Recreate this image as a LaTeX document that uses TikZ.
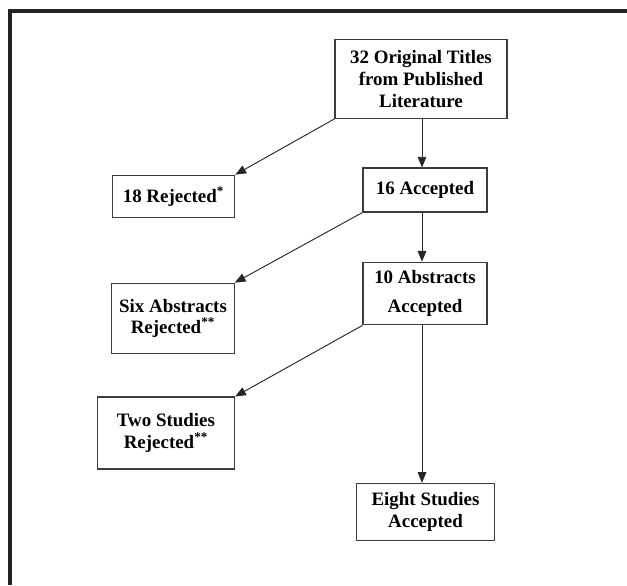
\documentclass[tikz,border=0pt]{standalone}
\usepackage{fontspec}
\setmainfont{Liberation Serif}
\usepackage{tikz}
\usetikzlibrary{arrows.meta}
\definecolor{boxline}{RGB}{60, 60, 60}
\definecolor{framegray}{RGB}{35, 35, 35}

\begin{document}
\begin{tikzpicture}[x=0.75pt, y=-0.75pt,
                box/.style={draw=boxline, line width=0.8pt, fill=white,
                           inner sep=0pt, align=center,
                           font=\bfseries\fontsize{14.2}{16.3}\selectfont},
                arr/.style={draw=black!85, line width=0.7pt,
                           -{Triangle[length=8pt, width=6.5pt]}}]
                \useasboundingbox (0,0) rectangle (627,585);
                \draw[framegray, line width=3pt] (10,585) -- (10,11.5) -- (627,11.5);

                \node[box, minimum width=129pt, minimum height=59pt] (titles) at (421,79)
                      {32 Original Titles\\from Published\\Literature};
                \node[box, minimum width=92pt, minimum height=32pt] (rej1) at (173.5,196.5)
                      {18 Rejected\textsuperscript{*}};
                \node[box, minimum width=93pt, minimum height=33pt] (acc1) at (425,190)
                      {16 Accepted};
                \node[box, minimum width=93pt, minimum height=47pt] (abs) at (425,293.5)
                      {10 Abstracts\\[5pt]Accepted};
                \node[box, minimum width=92pt, minimum height=53pt] (rej2) at (173,318.5)
                      {Six Abstracts\\Rejected\textsuperscript{**}};
                \node[box, minimum width=103pt, minimum height=54pt] (rej3) at (166,433)
                      {Two Studies\\Rejected\textsuperscript{**}};
                \node[box, minimum width=103pt, minimum height=43pt] (final) at (425.5,512)
                      {Eight Studies\\Accepted};

                \draw[arr] (titles.south west) -- (rej1.north east);
                \draw[arr] ([xshift=0.75pt]titles.south) -- ([xshift=0.75pt]titles.south |- acc1.north);
                \draw[arr] (acc1.south west) -- (rej2.north east);
                \draw[arr] ([xshift=-2.25pt]acc1.south) -- ([xshift=-2.25pt]abs.north);
                \draw[arr] (abs.south west) -- (rej3.north east);
                \draw[arr] ([xshift=-2.25pt]abs.south) -- ([xshift=-2.25pt]abs.south |- final.north);
\end{tikzpicture}
\end{document}
